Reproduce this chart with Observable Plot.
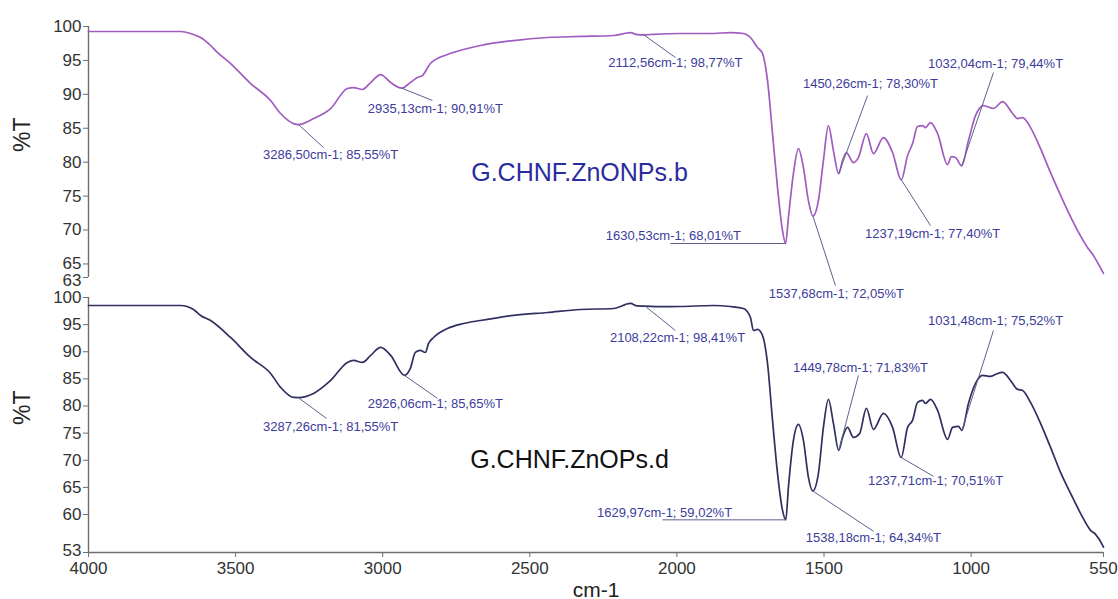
<!DOCTYPE html>
<html>
<head>
<meta charset="utf-8">
<script src="https://cdn.jsdelivr.net/npm/d3@7"></script>
<script src="https://cdn.jsdelivr.net/npm/@observablehq/plot@0.6"></script>
<style>
  body { margin: 0; background: #fff; }
  #chart { position: relative; width: 1118px; height: 599px; font-family: "Liberation Sans", Arial, sans-serif; }
  #chart svg { position: absolute; left: 0; }
</style>
</head>
<body>
<div id="chart"></div>
<script>
// FTIR spectra: wavenumber (cm-1) and transmittance (%T)

// Sample G.CHNF.ZnONPs.b
const wavenumberB = [4000, 3687, 3643, 3619, 3585, 3562, 3517, 3449, 3381, 3347, 3303, 3286.50, 3235, 3177, 3120, 3099, 3069, 3041, 3007, 2973, 2935.13, 2906, 2882, 2865, 2838, 2780, 2725, 2668, 2555, 2440, 2328, 2215, 2158, 2135, 2112.56, 2090, 1988, 1876, 1818, 1774, 1750, 1726, 1709, 1692, 1675, 1658, 1641, 1630.53, 1621, 1604, 1587, 1570, 1553, 1537.68, 1519, 1502, 1485, 1468, 1450.26, 1437, 1424, 1400, 1383, 1356, 1332, 1298, 1267, 1237.19, 1216, 1199, 1182, 1165, 1155, 1138, 1114, 1080, 1067, 1053, 1032.04, 1009, 985, 958, 924, 893, 859, 842, 825, 798, 764, 730, 703, 672, 638, 604, 584, 570, 550];
const transmittanceB = [99.26, 99.26, 98.82, 98.38, 97.20, 96.17, 94.54, 91.59, 89.09, 87.17, 85.69, 85.55, 86.43, 87.91, 90.86, 91.00, 90.71, 91.74, 92.92, 91.74, 90.91, 91.74, 92.48, 92.77, 94.54, 95.87, 96.61, 97.20, 97.93, 98.38, 98.53, 98.67, 99.10, 98.80, 98.77, 98.82, 98.97, 98.97, 99.11, 98.97, 98.38, 96.90, 96.02, 92.03, 84.22, 76.25, 69.91, 68.01, 71.83, 78.32, 82.00, 79.20, 74.33, 72.05, 74.33, 80.24, 85.40, 81.71, 78.30, 80.24, 81.42, 79.94, 80.68, 84.22, 81.27, 83.63, 81.42, 77.40, 80.97, 82.74, 85.25, 85.40, 85.10, 85.84, 84.22, 79.65, 80.83, 80.68, 79.44, 83.19, 86.87, 88.35, 87.91, 88.94, 87.17, 86.43, 86.58, 85.10, 82.00, 78.46, 75.81, 72.86, 69.91, 67.40, 66.22, 65.19, 63.60];

// Sample G.CHNF.ZnOPs.d
const wavenumberD = [4000, 3687, 3643, 3619, 3585, 3517, 3449, 3381, 3347, 3303, 3287.26, 3235, 3177, 3120, 3099, 3069, 3041, 3007, 2973, 2926.06, 2906, 2889, 2872, 2855, 2844, 2827, 2780, 2725, 2668, 2555, 2440, 2328, 2215, 2158, 2135, 2108.22, 2060, 1988, 1876, 1818, 1774, 1750, 1740, 1726, 1709, 1692, 1675, 1658, 1641, 1629.97, 1621, 1604, 1587, 1570, 1553, 1538.18, 1519, 1502, 1485, 1468, 1449.78, 1437, 1420, 1400, 1379, 1356, 1332, 1298, 1267, 1237.71, 1216, 1199, 1182, 1165, 1155, 1138, 1114, 1080, 1063, 1043, 1031.48, 1009, 985, 961, 934, 917, 893, 866, 842, 825, 798, 764, 730, 696, 662, 628, 594, 577, 553, 550];
const transmittanceD = [98.53, 98.53, 97.79, 96.69, 95.76, 92.63, 88.95, 86.00, 83.43, 81.58, 81.55, 82.32, 84.71, 88.03, 88.40, 88.03, 89.32, 90.79, 89.32, 85.65, 86.92, 89.87, 90.24, 89.87, 91.53, 92.63, 94.29, 95.21, 95.76, 96.69, 97.24, 97.79, 97.97, 98.90, 98.45, 98.41, 98.30, 98.34, 98.53, 98.34, 97.97, 96.32, 93.92, 94.11, 93.00, 87.85, 77.35, 67.59, 60.77, 59.02, 65.01, 73.67, 76.61, 73.67, 66.85, 64.34, 67.59, 76.06, 81.22, 76.80, 71.83, 74.22, 76.06, 74.22, 74.95, 79.56, 75.69, 78.64, 76.06, 70.51, 76.06, 77.35, 80.66, 81.03, 80.48, 81.22, 79.19, 73.85, 76.06, 76.24, 75.52, 80.48, 84.16, 85.64, 85.45, 85.82, 86.19, 84.71, 83.06, 82.87, 80.66, 76.80, 72.38, 67.77, 63.91, 60.22, 57.09, 56.35, 54.33, 54.00];

// Picked peaks
const peakWnB = [3286.50, 2935.13, 2112.56, 1630.53, 1537.68, 1450.26, 1237.19, 1032.04];
const peakTB  = [85.55, 90.91, 98.77, 68.01, 72.05, 78.30, 77.40, 79.44];
const peakWnD = [3287.26, 2926.06, 2108.22, 1629.97, 1538.18, 1449.78, 1237.71, 1031.48];
const peakTD  = [81.55, 85.65, 98.41, 59.02, 64.34, 71.83, 70.51, 75.52];

// Tick values
const xTicks  = [4000, 3500, 3000, 2500, 2000, 1500, 1000, 550];
const yTicksB = [63, 65, 70, 75, 80, 85, 90, 95, 100];
const yTicksD = [53, 60, 65, 70, 75, 80, 85, 90, 95, 100];

// Sample names and axis titles
const sampleNames = ["G.CHNF.ZnONPs.b", "G.CHNF.ZnOPs.d"];
const yTitle = "%T";
const xTitle = "cm-1";

// Label layout, in [cm-1, %T]: end of each leader line and centre of each peak label
const leaderEndB = [[3201, 82.15], [2831, 89.09], [2005, 95.43], [2022, 68.01], [1461, 61.80], [1352, 89.82], [1138, 70.65], [924, 93.22]];
const labelAtB   = [[3177, 81.12], [2821, 87.91], [2005, 94.69], [2012, 69.17], [1458, 60.62], [1342, 91.59], [1131, 69.47], [917, 94.54]];
const leaderEndD = [[3191, 77.72], [2814, 81.40], [2005, 93.92], [2049, 59.02], [1332, 56.91], [1383, 85.64], [1128, 67.04], [924, 93.92]];
const labelAtD   = [[3177, 76.24], [2821, 80.48], [1998, 92.63], [2042, 60.22], [1332, 55.62], [1376, 87.11], [1121, 66.30], [917, 95.76]];
const nameAt     = [[2331, 78.47], [2365, 69.98]];

const comma = v => v.toFixed(2).replace(".", ",");
const peakLabel = (wn, t) => `${comma(wn)}cm-1; ${comma(t)}%T`;

const FONT = "Liberation Sans, Arial, sans-serif";
const AXIS = "#6e6e6e";
const ANNOT = "#3c3c9c";
const LEADER = "#60608e";

function panel({wn, t, pWn, pT, leaderEnd, labelAt, yDomain, yTicks, lowLabelDy, lineColor, name, nameColor, nameXY, height, marginTop, marginBottom, bottomAxis}) {
  const idx = d3.range(wn.length);
  const pk = d3.range(pWn.length);
  const low = yTicks[0];
  const marks = [
    Plot.ruleX([4000], {stroke: AXIS, strokeWidth: 1.4}),
    Plot.axisY({ticks: yTicks, tickSize: 5, tickPadding: 2, fontSize: 17, fill: "#333", stroke: AXIS, label: null,
                tickFormat: d => d === low ? "" : String(d)}),
    // the lowest tick sits close to its neighbour, so its label is nudged a little
    Plot.axisY({ticks: [low], tickSize: 0, tickPadding: 7, dy: lowLabelDy, fontSize: 17, fill: "#333", label: null,
                tickFormat: d => String(d)}),
    Plot.text([yTitle], {frameAnchor: "left", dx: -66, rotate: -90, fontSize: 23, fill: "#222", text: d => d}),
    Plot.line(idx, {x: i => wn[i], y: i => t[i], stroke: lineColor, strokeWidth: 1.7, strokeLinejoin: "round", curve: "monotone-x"}),
    Plot.link(pk, {x1: i => pWn[i], y1: i => pT[i], x2: i => leaderEnd[i][0], y2: i => leaderEnd[i][1], stroke: LEADER, strokeWidth: 1}),
    Plot.text(pk, {x: i => labelAt[i][0], y: i => labelAt[i][1], text: i => peakLabel(pWn[i], pT[i]), fill: ANNOT, fontSize: 13, textAnchor: "middle", lineAnchor: "middle"}),
    Plot.text([name], {x: nameXY[0], y: nameXY[1], text: d => d, fill: nameColor, fontSize: 25, textAnchor: "middle", lineAnchor: "middle"})
  ];
  if (bottomAxis) {
    marks.push(
      Plot.ruleY([yDomain[0]], {stroke: AXIS, strokeWidth: 1.4}),
      Plot.axisX({ticks: xTicks, tickSize: 5, tickPadding: 4, fontSize: 17, fill: "#333", stroke: AXIS, label: null, tickFormat: d => String(d)}),
      Plot.text([xTitle], {frameAnchor: "bottom", dy: 38, fontSize: 21, fill: "#222", text: d => d, lineAnchor: "middle"})
    );
  }
  return Plot.plot({
    width: 1118,
    height,
    marginLeft: 88,
    marginRight: 15,
    marginTop,
    marginBottom,
    style: {background: "transparent", overflow: "visible", fontFamily: FONT},
    x: {domain: [4000, 550], axis: null},
    y: {domain: yDomain, axis: null},
    marks
  });
}

const topPanel = panel({
  wn: wavenumberB, t: transmittanceB, pWn: peakWnB, pT: peakTB,
  leaderEnd: leaderEndB, labelAt: labelAtB,
  yDomain: [63, 100], yTicks: yTicksB, lowLabelDy: 3, lineColor: "#a05cbf",
  name: sampleNames[0], nameColor: "#2b2ba0", nameXY: nameAt[0],
  height: 287, marginTop: 26, marginBottom: 10, bottomAxis: false
});
const bottomPanel = panel({
  wn: wavenumberD, t: transmittanceD, pWn: peakWnD, pT: peakTD,
  leaderEnd: leaderEndD, labelAt: labelAtD,
  yDomain: [53, 100], yTicks: yTicksD, lowLabelDy: -2, lineColor: "#2f2f60",
  name: sampleNames[1], nameColor: "#111", nameXY: nameAt[1],
  height: 312, marginTop: 10, marginBottom: 47, bottomAxis: true
});
topPanel.style.top = "0px";
topPanel.style.zIndex = "2";
bottomPanel.style.top = "287px";
bottomPanel.style.zIndex = "1";
document.getElementById("chart").append(bottomPanel, topPanel);
</script>
</body>
</html>
